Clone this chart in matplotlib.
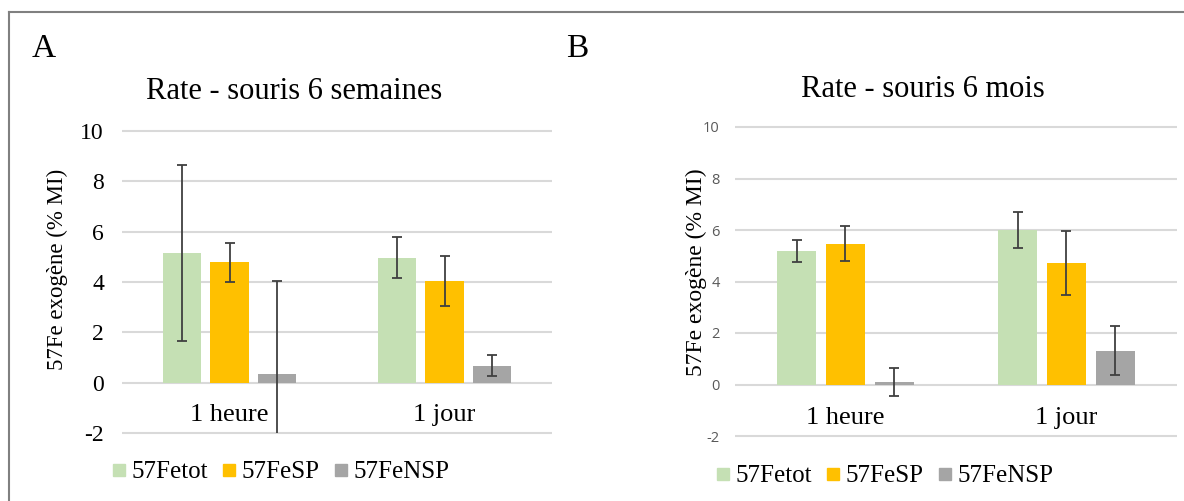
import numpy as np
import matplotlib.pyplot as plt
from matplotlib.lines import Line2D

categories = ['1 heure', '1 jour']
series = ['57Fetot', '57FeSP', '57FeNSP']
colors = ['#C5E0B4', '#FFC000', '#A5A5A5']

# panel A - souris 6 semaines
vals_a = [[5.15, 4.97], [4.78, 4.04], [0.34, 0.68]]
err_a = [[3.5, 0.81], [0.77, 0.99], [3.7, 0.4]]

# panel B - souris 6 mois
vals_b = [[5.19, 6.0], [5.47, 4.71], [0.09, 1.32]]
err_b = [[0.44, 0.68], [0.68, 1.25], [0.54, 0.94]]

yticks = [-2, 0, 2, 4, 6, 8, 10]

W, H = 1184, 501
fig = plt.figure(figsize=(W / 100, H / 100), dpi=100)
serif = 'Liberation Serif'

# outer frame
fig.add_artist(Line2D([9 / W, 9 / W], [0, 1 - 12 / H], color='#808080', lw=1.5))
fig.add_artist(Line2D([9 / W, 1], [1 - 12 / H, 1 - 12 / H], color='#808080', lw=1.5))


def panel(rect, vals, errs, tick_font, tick_color, tick_size, pad):
    ax = fig.add_axes(rect)
    x = np.arange(len(categories))
    w = 0.177
    off = 0.221
    for i in range(len(series)):
        ax.bar(x + (i - 1) * off, vals[i], w, color=colors[i], zorder=2)
        ax.errorbar(x + (i - 1) * off, vals[i], yerr=errs[i], fmt='none',
                    ecolor='#404040', elinewidth=1.3, capsize=3.5, capthick=1.3, zorder=3)
    ax.set_xlim(-0.5, 1.5)
    ax.set_ylim(-2, 10)
    ax.hlines(yticks, -0.5, 1.5, color='#D9D9D9', lw=1.5, zorder=1, clip_on=False)
    for s in ax.spines.values():
        s.set_visible(False)
    ax.set_xticks([])
    ax.set_yticks(yticks)
    ax.set_yticklabels([str(t) for t in yticks], fontfamily=tick_font,
                       color=tick_color, fontsize=tick_size)
    ax.tick_params(axis='y', length=0, pad=pad)
    for xi, c in zip(x, categories):
        ax.text(xi, -1.52, c, ha='center', va='baseline', fontfamily=serif, fontsize=19)
    return ax


ax1 = panel([122 / W, 1 - 433 / H, 430 / W, 302 / H], vals_a, err_a,
            serif, 'black', 17, 13)
ax2 = panel([735 / W, 1 - 436 / H, 442 / W, 309 / H], vals_b, err_b,
            'Open Sans', '#595959', 10.5, 11)

fig.text(57 / W, 1 - 269 / H, '57Fe exogène (% MI)', rotation=90, ha='center', va='center',
         fontfamily=serif, fontsize=16.5)
fig.text(696 / W, 1 - 272 / H, '57Fe exogène (% MI)', rotation=90, ha='center', va='center',
         fontfamily=serif, fontsize=17)

fig.text(294 / W, 1 - 99 / H, 'Rate - souris 6 semaines', ha='center', va='baseline',
         fontfamily=serif, fontsize=22)
fig.text(923 / W, 1 - 97 / H, 'Rate - souris 6 mois', ha='center', va='baseline',
         fontfamily=serif, fontsize=22)
fig.text(44 / W, 1 - 57 / H, 'A', ha='center', va='baseline', fontfamily=serif, fontsize=24)
fig.text(577 / W, 1 - 57 / H, 'B', ha='center', va='baseline', fontfamily=serif, fontsize=24)

handles = [Line2D([], [], marker='s', color=c, ls='none', markersize=8.6) for c in colors]
for cx, cy in [(281, 472), (885, 476)]:
    fig.legend(handles, series, loc='center', bbox_to_anchor=(cx / W, 1 - cy / H),
               ncol=3, frameon=False, prop={'family': serif, 'size': 18},
               handletextpad=0.25, columnspacing=0.6, handlelength=0.5,
               borderpad=0, borderaxespad=0)

fig.savefig('out.png', dpi=100)
